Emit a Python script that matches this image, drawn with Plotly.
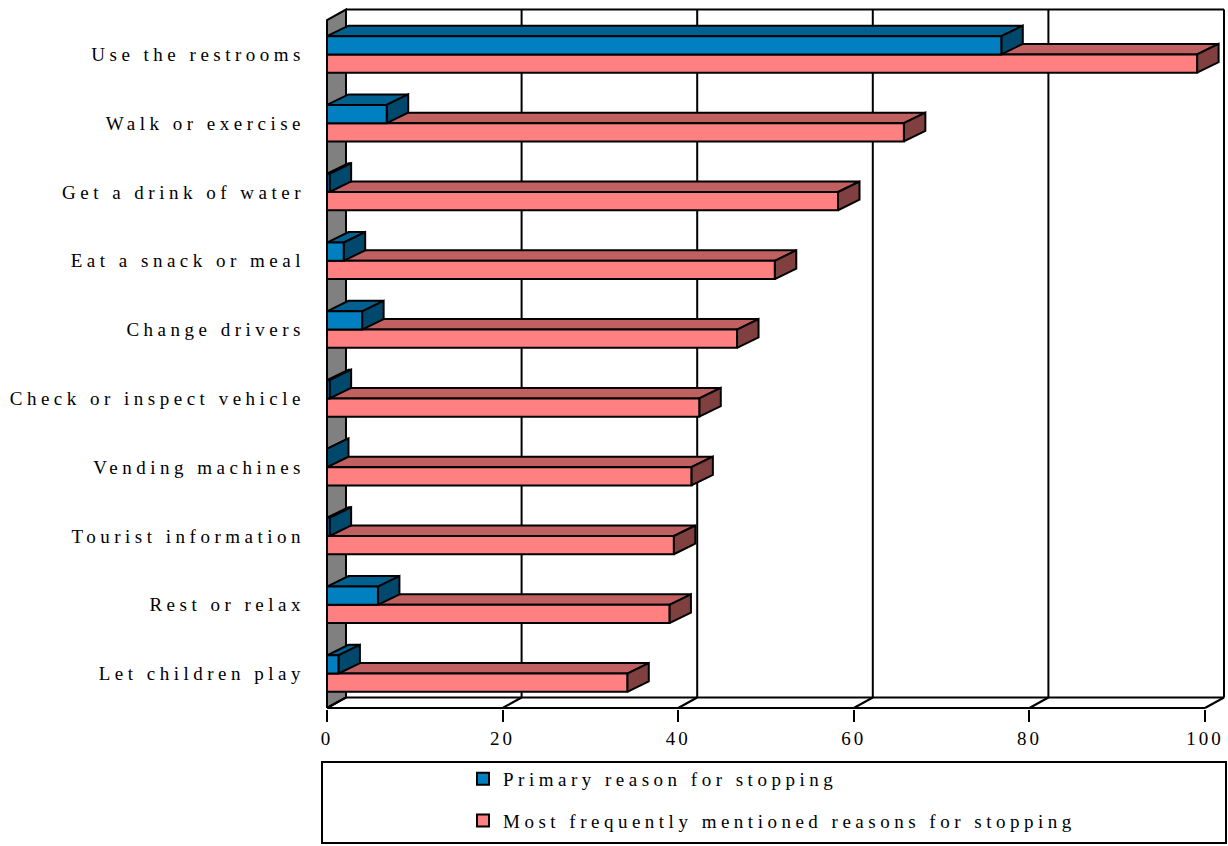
import plotly.graph_objects as go

# ---------------- data ----------------
categories = ["Use the restrooms", "Walk or exercise", "Get a drink of water",
              "Eat a snack or meal", "Change drivers", "Check or inspect vehicle",
              "Vending machines", "Tourist information", "Rest or relax",
              "Let children play"]
primary = [76.8, 6.8, 0.3, 1.9, 4.0, 0.3, 0.0, 0.3, 5.8, 1.3]
frequent = [99.1, 65.7, 58.2, 51.0, 46.7, 42.4, 41.5, 39.5, 39.0, 34.2]
series_names = ["Primary reason for stopping", "Most frequently mentioned reasons for stopping"]
x_ticks = [0, 20, 40, 60, 80, 100]

# ---------------- geometry / style ----------------
W, H = 1228, 846
PXX, X0PX = 8.78, 327          # px per x unit, px of x=0
PXY, YB_PX = 68.8, 708          # px per category, px of y=-0.5
ML, MB = 325, 137
xr = [(ML - X0PX) / PXX, (W - X0PX) / PXX]
yr = [-0.5 + (YB_PX - (H - MB)) / PXY, -0.5 + YB_PX / PXY]

DXW, DYW = 19 / PXX, 10.5 / PXY     # depth of walls
DXB, DYB = 21.5 / PXX, 10.5 / PXY   # depth of bars
BH = 0.265                           # bar thickness (category units)
n = len(categories)
ypos = [n - 1 - i for i in range(n)]   # top category first
ymin, ymax = -0.5, n - 0.5
XMAX = 100

FONT = "Liberation Serif, Times New Roman, serif"
BLUE = ["rgb(0,128,192)", "rgb(0,96,144)", "rgb(0,72,108)"]
PINK = ["rgb(255,128,128)", "rgb(192,96,96)", "rgb(128,64,64)"]
LW = 2

fig = go.Figure()


def poly_trace(polys, color):
    xs, ys = [], []
    for p in polys:
        for (a, b) in p + [p[0]]:
            xs.append(a)
            ys.append(b)
        xs.append(None)
        ys.append(None)
    fig.add_trace(go.Scatter(x=xs, y=ys, mode="lines", fill="toself",
                             fillcolor=color, line=dict(color="black", width=LW),
                             showlegend=False, hoverinfo="skip"))


def line_trace(segs):
    xs, ys = [], []
    for s in segs:
        for (a, b) in s:
            xs.append(a)
            ys.append(b)
        xs.append(None)
        ys.append(None)
    fig.add_trace(go.Scatter(x=xs, y=ys, mode="lines",
                             line=dict(color="black", width=LW),
                             showlegend=False, hoverinfo="skip"))


# left (gray) wall
poly_trace([[(0, ymin), (0, ymax), (DXW, ymax + DYW), (DXW, ymin + DYW)]], "rgb(128,128,128)")

# back plane grid + frame + floor
segs = []
for t in x_ticks[1:]:
    segs.append([(t + DXW, ymin + DYW), (t + DXW, ymax + DYW)])
segs.append([(DXW, ymax + DYW), (XMAX + DXW, ymax + DYW)])
segs.append([(DXW, ymin + DYW), (XMAX + DXW, ymin + DYW)])
for t in x_ticks:
    segs.append([(t, ymin), (t + DXW, ymin + DYW)])
segs.append([(0, ymin), (XMAX, ymin)])
line_trace(segs)


# bars (front, top and side faces derived from the values)
def faces(vals, offset):
    tops, sides, fronts = [], [], []
    for v, yc in zip(vals, ypos):
        y0 = yc + offset
        y1 = y0 + BH
        fronts.append([(0, y0), (v, y0), (v, y1), (0, y1)])
        tops.append([(0, y1), (v, y1), (v + DXB, y1 + DYB), (DXB, y1 + DYB)])
        sides.append([(v, y0), (v + DXB, y0 + DYB), (v + DXB, y1 + DYB), (v, y1)])
    return tops, sides, fronts


pt, ps, pf = faces(frequent, -BH)
bt, bs, bf = faces(primary, 0)
poly_trace(pt, PINK[1]); poly_trace(ps, PINK[2]); poly_trace(pf, PINK[0])
poly_trace(bt, BLUE[1]); poly_trace(bs, BLUE[2]); poly_trace(bf, BLUE[0])

# legend entries
for nm, col, grp in zip(series_names, [BLUE[0], PINK[0]], ["a", "b"]):
    fig.add_trace(go.Bar(x=[None], y=[None], name=nm, orientation="h",
                         marker=dict(color=col, line=dict(color="black", width=2)),
                         legendgroup=grp))

fig.update_layout(
    width=W, height=H,
    margin=dict(l=ML, r=0, t=0, b=MB),
    paper_bgcolor="white", plot_bgcolor="white",
    font=dict(family=FONT, size=19, color="black"),
    hovermode=False,
    xaxis=dict(range=xr, showgrid=False, zeroline=False, showline=False,
               tickvals=x_ticks, ticks="outside", ticklen=12, tickwidth=2,
               tickcolor="black", tickfont=dict(size=19), fixedrange=True),
    yaxis=dict(range=yr, showgrid=False, zeroline=False, showline=False,
               tickvals=ypos, ticktext=categories, ticks="",
               ticklabelstandoff=19, tickfont=dict(size=19), fixedrange=True),
    showlegend=True,
    legend=dict(x=(463 - ML) / (W - ML), y=(H - MB - 760) / (H - MB),
                xanchor="left", yanchor="top", bgcolor="rgba(0,0,0,0)",
                tracegroupgap=14, traceorder="grouped",
                font=dict(size=19)),
    shapes=[dict(type="rect", xref="paper", yref="paper",
                 x0=(322 - ML) / (W - ML), x1=(1226 - ML) / (W - ML),
                 y0=(H - MB - 843) / (H - MB), y1=(H - MB - 762) / (H - MB),
                 line=dict(color="black", width=2), fillcolor="rgba(0,0,0,0)")],
)

post = ("var s=document.createElement('style');"
        "s.textContent='.ytick text,.legendtext{letter-spacing:4.5px}"
        ".xtick text{letter-spacing:3px}"
        ".legend .scrollbox{clip-path:none !important}';"
        "document.head.appendChild(s);")
fig.write_html("out.html", config={"displayModeBar": False, "responsive": False},
               post_script=post)
